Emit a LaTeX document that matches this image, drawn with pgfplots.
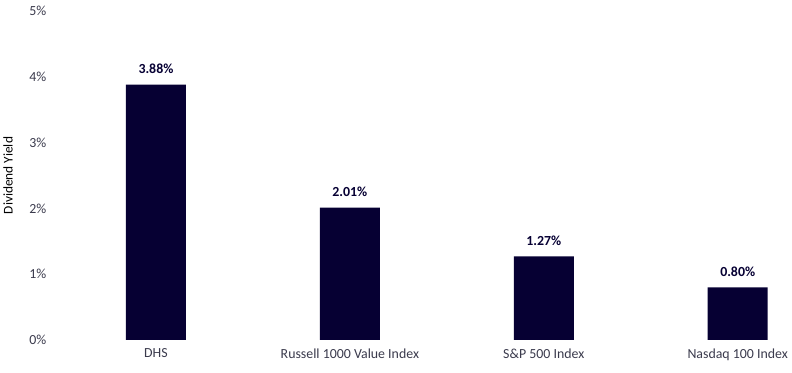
\documentclass[border=0pt]{standalone}
\usepackage{pgfplots}
\pgfplotsset{compat=1.18}
\usepackage{fontspec}
\setmainfont{Carlito}
\definecolor{barnavy}{HTML}{060033}
\definecolor{txtgray}{HTML}{3A3A4C}
\begin{document}
\begin{tikzpicture}
\useasboundingbox (-44.25pt,-24.75pt) rectangle (549.75pt,255pt);
\begin{axis}[
  scale only axis,
  width=549.75pt, height=246.75pt,
  at={(0,0)}, anchor=south west,
  xmin=-0.5, xmax=3.28,
  ymin=0, ymax=5,
  axis line style={draw=none},
  major tick length=0pt,
  ytick={0,1,2,3,4,5},
  yticklabel={\pgfmathprintnumber{\tick}\%},
  xtick=data,
  xticklabels={DHS, Russell 1000 Value Index, S\&P 500 Index, Nasdaq 100 Index},
  /pgf/number format/assume math mode=true,
  tick label style={font=\fontsize{10.4}{12}\selectfont, text=txtgray},
  yticklabel style={xshift=-6pt},
  xticklabel style={yshift=-3pt},
  ylabel={Dividend Yield},
  ylabel style={font=\fontsize{9.8}{12}\selectfont, text=txtgray},
  every axis y label/.style={at={(axis description cs:-0.0696,0.5)}, rotate=90, anchor=center},
  nodes near coords={\pgfmathprintnumber[fixed,fixed zerofill,precision=2]{\pgfplotspointmeta}\%},
  every node near coord/.append style={font=\bfseries\fontsize{10.4}{12}\selectfont, text=barnavy, anchor=center, yshift=12pt},
  clip=false,
]
\addplot[ybar, bar width=45pt, fill=barnavy, draw=none] coordinates {(0,3.88) (1,2.01) (2,1.27) (3,0.80)};
\end{axis}
\end{tikzpicture}
\end{document}
